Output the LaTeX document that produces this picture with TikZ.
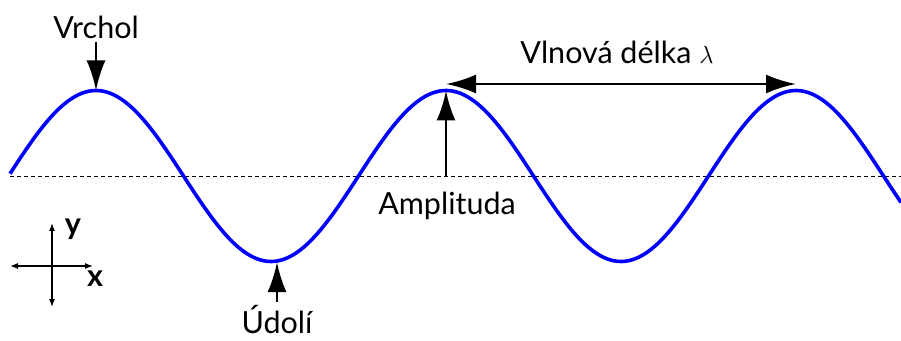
\documentclass[tikz,border=0pt]{standalone}
\usepackage{fontspec}
\setmainfont{Lato}
\usetikzlibrary{arrows.meta,positioning}

\begin{document}
\begin{tikzpicture}[
  x=1pt, y=1pt,
  >={Latex[length=30pt,width=19pt]},
  lbl/.style={font=\fontsize{30.5}{36}\selectfont, inner sep=1pt},
  ptr/.style={->, line width=2.8pt, shorten <=2pt},
  axis/.style={{Latex[length=8pt,width=6pt]}-{Latex[length=8pt,width=6pt]}, line width=1.1pt},
  wave/.style={blue, line width=3.6pt, line join=round},
  mid/.style={dashed, line width=0.7pt, dash pattern=on 4pt off 3pt}
]
\useasboundingbox (0,0) rectangle (901,340);
% midline and wave
\draw[mid] (10,164) -- (901,164);
\draw[wave] plot[domain=10:901, samples=250, smooth] (\x, {164+85.5*cos((\x-96)/350*360)});
% points on the wave
\coordinate (crestA) at (96,249.5);
\coordinate (crestB) at (446,249.5);
\coordinate (crestC) at (796,249.5);
\coordinate (trough) at (277,78);
\coordinate (base) at (446,164);
% labels
\node[lbl] (vrchol) at (96,313) {Vrchol};
\node[lbl, anchor=base, inner sep=0pt] (udoli) at (277,7) {Údolí};
\node[lbl] (amp) at (447,134) {Amplituda};
\node[lbl] (lambda) at (617,288) {Vlnová délka $\lambda$};
\coordinate (lamL) at (446,256);
\coordinate (lamR) at (796,256);
\draw[ptr] (vrchol) -- (crestA);
\draw[ptr, shorten <=3pt] (udoli.north) -- (trough);
\draw[->, line width=2.8pt] (base) -- (crestB);
\draw[<->, line width=2.8pt] (lamL) -- (lamR);
% axes
\coordinate (o) at (52,74);
\coordinate (xl) at (10,74);
\coordinate (xr) at (93,74);
\coordinate (yt) at (52,117);
\coordinate (yb) at (52,33);
\draw[axis] (xl) -- (xr);
\draw[axis] (yb) -- (yt);
\node[lbl, font=\fontsize{30.5}{36}\selectfont\bfseries] (ylab) at (73,111) {y};
\node[lbl, font=\fontsize{30.5}{36}\selectfont\bfseries] (xlab) at (95,61) {x};
\end{tikzpicture}
\end{document}
